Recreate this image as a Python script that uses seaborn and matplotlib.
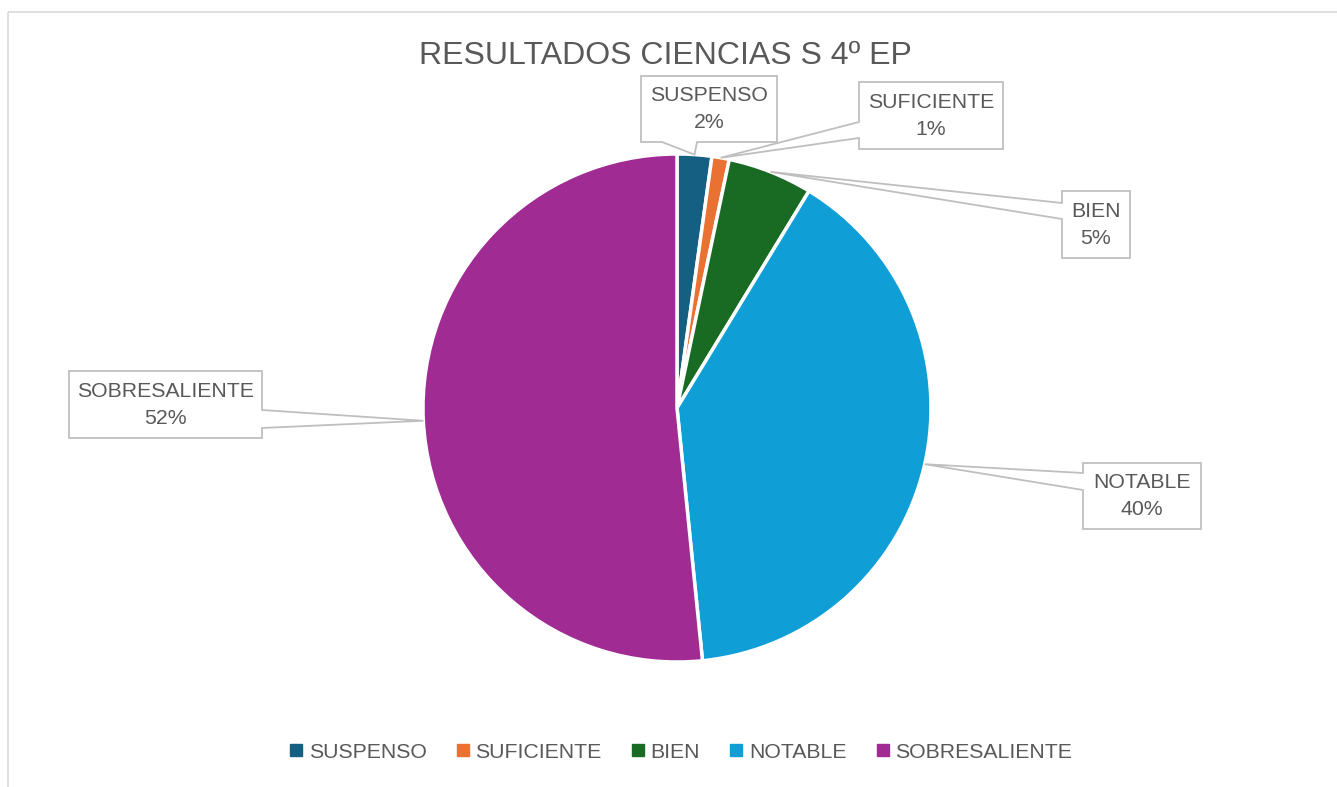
import matplotlib
matplotlib.use("Agg")
import matplotlib.pyplot as plt
import seaborn as sns
import numpy as np
from matplotlib.patches import Polygon, Rectangle
from matplotlib.lines import Line2D

# ---- data ----
categories = ["SUSPENSO", "SUFICIENTE", "BIEN", "NOTABLE", "SOBRESALIENTE"]
values = [2.2, 1.1, 5.4, 39.7, 51.6]
pct_labels = ["2%", "1%", "5%", "40%", "52%"]
colors = ["#156082", "#E97132", "#196B24", "#0F9ED5", "#A02B93"]
title = "RESULTADOS CIENCIAS S 4º EP"

sns.set_theme(style="white")
plt.rcParams['font.family'] = ['Liberation Sans', 'DejaVu Sans']
TXT = "#595959"
EDGE = "#BFBFBF"

W, H = 1337, 787
fig = plt.figure(figsize=(W / 100, H / 100), dpi=100)
fig.patch.set_facecolor("white")

# pie axes: square in pixels, centred at (677, 408)
cx, cy, half = 677, 408, 280
ax = fig.add_axes([(cx - half) / W, (H - cy - half) / H, 2 * half / W, 2 * half / H])
ax.pie(values, colors=sns.color_palette(colors), startangle=90, counterclock=False,
       radius=1.0, wedgeprops=dict(edgecolor="white", linewidth=2.5))
lim = half / 254.0
ax.set_xlim(-lim, lim)
ax.set_ylim(-lim, lim)
ax.set_aspect("equal", adjustable="box")
ax.axis("off")

# overlay in pixel coordinates (y downward)
ov = fig.add_axes([0, 0, 1, 1], zorder=5)
ov.set_xlim(0, W)
ov.set_ylim(H, 0)
ov.axis("off")
ov.patch.set_alpha(0)

# chart frame
ov.add_patch(Rectangle((8, 12), 1400, 900, fill=False, ec="#D9D9D9", lw=1.2))

fig.canvas.draw()

# tips of callouts at mid-angle of each slice on the pie edge
total = float(sum(values))
cum = np.cumsum(values)
tips = []
for v, c in zip(values, cum):
    th = np.deg2rad(360.0 * (c - v / 2) / total)
    disp = ax.transData.transform((np.sin(th) * 1.0, np.cos(th) * 1.0))
    tips.append(ov.transData.inverted().transform(disp))

# callout boxes: (x0, y0, x1, y1), side of wedge, base range
boxes = [
    ((641, 76, 777, 142), "bottom", (662, 697)),
    ((859, 82, 1003, 149), "left", (122, 138)),
    ((1062, 191, 1130, 258), "left", (203, 219)),
    ((1083, 463, 1201, 529), "left", (473, 490)),
    ((69, 371, 262, 438), "right", (410, 428)),
]

for (box, side, (a, b)), tip, cat, pl in zip(boxes, tips, categories, pct_labels):
    x0, y0, x1, y1 = box
    t = tuple(tip)
    if side == "bottom":
        pts = [(x0, y0), (x1, y0), (x1, y1), (b, y1), t, (a, y1), (x0, y1)]
    elif side == "left":
        pts = [(x0, y0), (x1, y0), (x1, y1), (x0, y1), (x0, b), t, (x0, a)]
    else:
        pts = [(x0, y0), (x1, y0), (x1, a), t, (x1, b), (x1, y1), (x0, y1)]
    ov.add_patch(Polygon(pts, closed=True, fc="white", ec=EDGE, lw=1.3, zorder=6))
    xm = (x0 + x1) / 2
    ov.text(xm, y0 + (y1 - y0) * 0.30, cat, ha="center", va="center",
            fontsize=15.3, color=TXT, zorder=7)
    ov.text(xm, y0 + (y1 - y0) * 0.71, pl, ha="center", va="center",
            fontsize=15.3, color=TXT, zorder=7)

# title
ov.text(665, 56, title, ha="center", va="center", fontsize=23, color=TXT)

# legend
handles = [Line2D([0], [0], marker="s", linestyle="none", markersize=8,
                  markerfacecolor=c, markeredgecolor=c) for c in colors]
leg = fig.legend(handles, categories, loc="center", bbox_to_anchor=(681 / W, 1 - 752 / H),
                 ncol=5, frameon=False, fontsize=15.3, handlelength=0.6,
                 handletextpad=0.3, columnspacing=1.4, labelcolor=TXT)

fig.savefig("out.png", dpi=100, facecolor="white")
